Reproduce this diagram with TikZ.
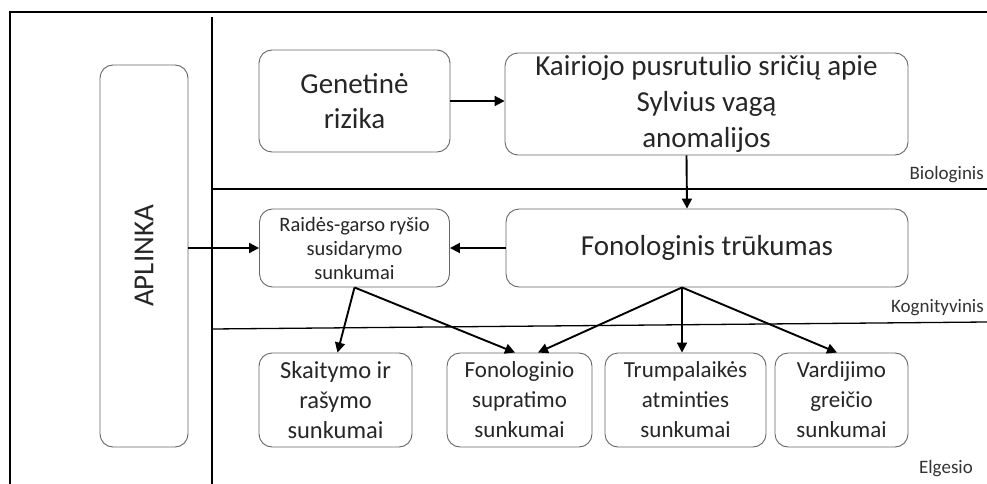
\documentclass[tikz,border=0pt]{standalone}
\usepackage{fontspec}
\setmainfont{Carlito}
\usepackage{tikz}
\usetikzlibrary{arrows.meta, positioning, calc}
\tikzset{box/.style={draw=gray!80!black, line width=0.9pt, rounded corners=13pt, align=center, inner sep=2pt, text=black!85}, arr/.style={line width=1.9pt, -{Triangle[length=10pt,width=10pt]}}, layer/.style={font=\fontsize{19}{21}\selectfont, text=black!80, anchor=east, inner sep=1pt}}

\begin{document}
\begin{tikzpicture}[x=1pt,y=-1pt]
                 \useasboundingbox (0,0) rectangle (987,484);
                 \draw[line width=2.4pt](10,484)--(10,12)--(987,12);
                 \draw[line width=1.5pt](212,17)--(212,484);

                 \draw[line width=1.3pt](212,189)--(987,189);
                 \draw[line width=1.3pt](212,329)--(987,322);
                 \node[layer] (bio) at (985,175) {Biologinis};
                 \node[layer] (kog) at (985,308) {Kognityvinis};
                 \node[layer] (elg) at (974,469) {Elgesio};

                 \node[box, rotate=90, minimum width=382, minimum height=88, font=\fontsize{29}{34}\selectfont] (aplinka) at (144,256) {APLINKA};

                 \node[box, minimum width=191, minimum height=102, font=\fontsize{29}{35}\selectfont] (gen) at (354.5,101) {Genetinė\\rizika};
                 \node[box, minimum width=403, minimum height=102, font=\fontsize{29}{36}\selectfont] (kair) at (706.5,104) {Kairiojo pusrutulio sričių apie\\Sylvius vagą\\anomalijos};

                 \node[box, minimum width=190, minimum height=78, font=\fontsize{20.5}{24}\selectfont] (raid) at (354.5,248) {Raidės-garso ryšio\\susidarymo\\sunkumai};
                 \node[box, minimum width=402, minimum height=78, font=\fontsize{29}{34}\selectfont] (fon) at (707,248) {Fonologinis trūkumas};

                 \node[box, minimum width=153, minimum height=94, font=\fontsize{24.5}{30}\selectfont] (skait) at (335.5,400) {Skaitymo ir\\rašymo\\sunkumai};
                 \node[box, minimum width=145, minimum height=94, font=\fontsize{23}{30}\selectfont] (fsup) at (519.5,400) {Fonologinio\\supratimo\\sunkumai};
                 \node[box, minimum width=161, minimum height=94, font=\fontsize{23}{30}\selectfont] (trump) at (685.5,400) {Trumpalaikės\\atminties\\sunkumai};
                 \node[box, minimum width=133, minimum height=94, font=\fontsize{23}{30}\selectfont] (vard) at (841.5,400) {Vardijimo\\greičio\\sunkumai};

                 \coordinate (rb) at (raid.south);
                 \coordinate (fb) at ([xshift=-25pt]fon.south);

                 \draw[arr](gen.east)--(gen.east -| kair.west);
                 \draw[arr]([xshift=-20pt]kair.south)--([xshift=-20pt]fon.north);
                 \draw[arr](fon.west)--(raid.east);
                 \draw[arr](aplinka.south |- raid.west)--(raid.west);

                 \draw[arr](rb)--([xshift=2pt]skait.north);
                 \draw[arr](rb)--([xshift=-4.5pt]fsup.north);
                 \draw[arr](fb)--([xshift=18.5pt]fsup.north);
                 \draw[arr](fb)--([xshift=-3.5pt]trump.north);
                 \draw[arr](fb)--([xshift=-4.5pt]vard.north);
             \end{tikzpicture}
\end{document}
